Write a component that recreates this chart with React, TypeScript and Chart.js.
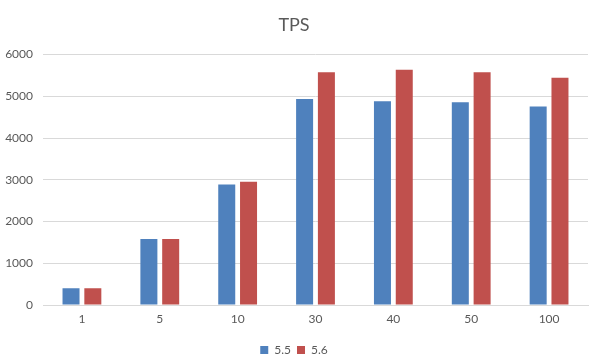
import React, { useEffect, useRef } from "react";
import { Chart, registerables } from "chart.js";

Chart.register(...registerables);

const categories = ["1", "5", "10", "30", "40", "50", "100"];
const series55 = [400, 1580, 2885, 4935, 4885, 4860, 4757];
const series56 = [400, 1580, 2955, 5580, 5635, 5580, 5445];
const seriesNames = ["5.5", "5.6"];
const titleText = "TPS";

export default function App() {
  const ref = useRef<HTMLCanvasElement | null>(null);
  useEffect(() => {
    if (!ref.current) return;
    const font = "Lato, 'Open Sans', sans-serif";
    const chart = new Chart(ref.current, {
      type: "bar",
      data: {
        labels: categories,
        datasets: [
          { label: seriesNames[0], data: series55, backgroundColor: "#4f81bd", categoryPercentage: 0.56, barPercentage: 0.78 },
          { label: seriesNames[1], data: series56, backgroundColor: "#c0504d", categoryPercentage: 0.56, barPercentage: 0.78 },
        ],
      },
      options: {
        animation: false,
        responsive: false,
        maintainAspectRatio: false,
        layout: { padding: { left: 0, right: 9, top: 0, bottom: -5 } },
        plugins: {
          title: {
            display: true,
            text: titleText,
            color: "#595959",
            font: { family: font, size: 18, weight: "normal" },
            padding: { top: 14, bottom: 19 },
          },
          legend: {
            position: "bottom",
            labels: {
              boxWidth: 8,
              boxHeight: 8,
              color: "#595959",
              font: { family: font, size: 12 },
              padding: 6,
            },
          },
          tooltip: { enabled: false },
        },
        scales: {
          x: {
            afterFit: (s: any) => { s.height = 33; },
            grid: { display: false, drawTicks: false },
            border: { color: "#d9d9d9" },
            ticks: { color: "#595959", font: { family: font, size: 12 }, padding: 7 },
          },
          y: {
            min: 0,
            max: 6000,
            afterFit: (s: any) => { s.width = 43; },
            grid: { color: "#d9d9d9", drawTicks: false },
            border: { display: false },
            ticks: {
              stepSize: 1000,
              color: "#595959",
              font: { family: font, size: 12 },
              padding: 10,
              callback: (v: any) => String(v),
            },
          },
        },
      },
    });
    return () => chart.destroy();
  }, []);
  return (
    <div style={{ position: "fixed", left: 0, top: 0, width: 597, height: 361, background: "#fff" }}>
      <canvas ref={ref} width={597} height={361} style={{ width: 597, height: 361 }} />
    </div>
  );
}
